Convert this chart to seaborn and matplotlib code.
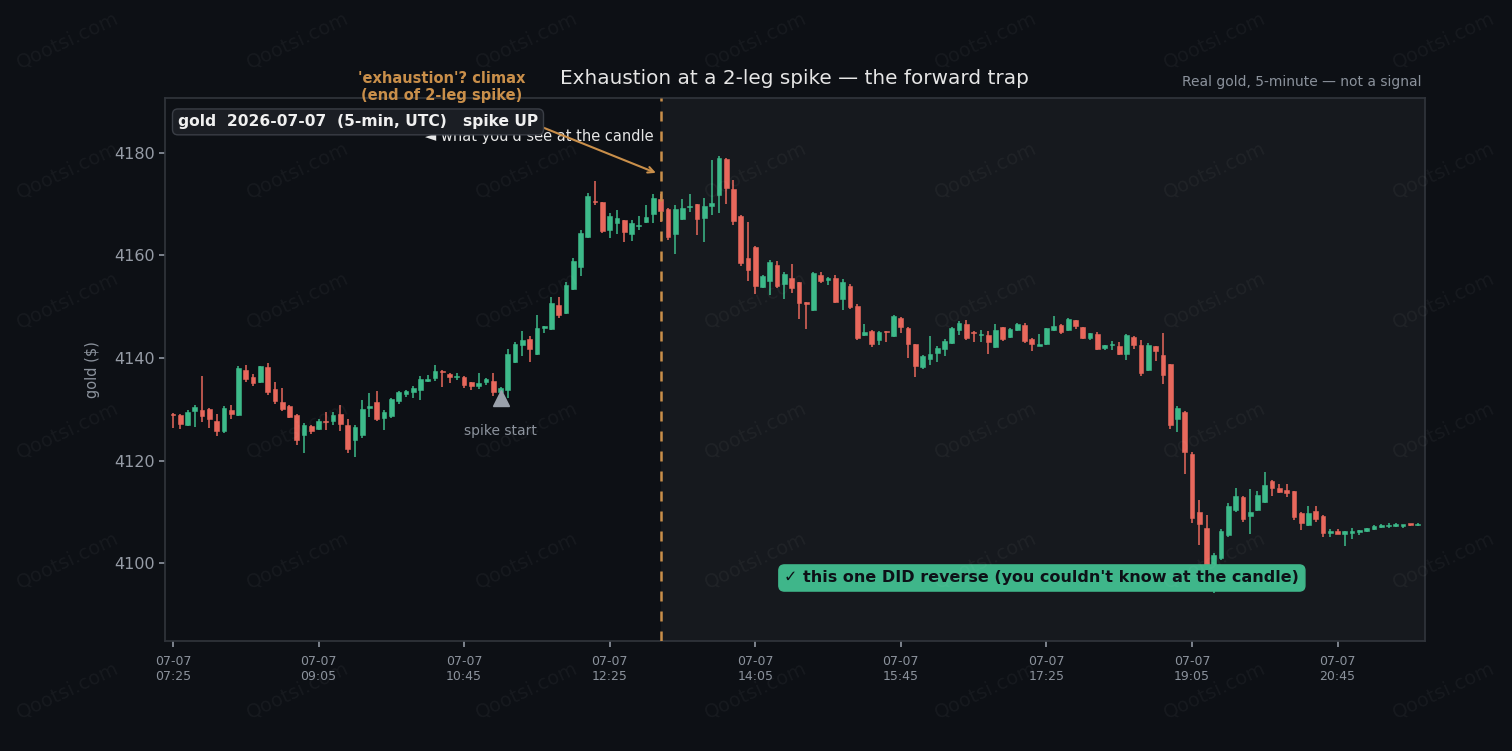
import pandas as pd
import numpy as np
import matplotlib
matplotlib.use("Agg")
import matplotlib.pyplot as plt
import seaborn as sns

# 5-minute gold candles, 2026-07-07 07:25 UTC onwards
opens = [4129.1, 4128.9, 4126.9, 4129.7, 4129.9, 4130.0, 4127.7, 4125.8, 4129.9, 4128.9,
         4137.7, 4136.3, 4135.3, 4138.2, 4134.0, 4131.4, 4130.6, 4128.9, 4125.0, 4126.7,
         4126.2, 4127.8, 4127.7, 4129.1, 4126.9, 4124.0, 4125.0, 4130.3, 4131.4, 4128.3,
         4128.7, 4131.6, 4133.0, 4133.4, 4133.8, 4135.6, 4136.1, 4137.4, 4136.9, 4136.2,
         4136.3, 4135.3, 4134.5, 4135.3, 4135.5, 4133.4, 4133.8, 4139.2, 4142.5, 4143.7,
         4140.8, 4145.9, 4145.7, 4150.3, 4148.8, 4153.5, 4157.8, 4163.6, 4170.6, 4170.4,
         4165.0, 4166.3, 4166.9, 4164.2, 4165.7, 4166.6, 4168.1, 4171.0, 4169.1, 4164.2,
         4167.1, 4169.4, 4170.0, 4167.3, 4169.7, 4171.8, 4178.8, 4173.0, 4167.7, 4159.5,
         4161.7, 4153.9, 4155.0, 4158.1, 4154.4, 4155.6, 4154.8, 4150.9, 4149.4, 4156.2,
         4155.3, 4155.6, 4151.5, 4154.0, 4150.1, 4144.5, 4145.3, 4143.5, 4145.2, 4144.3,
         4147.8, 4145.9, 4142.7, 4138.2, 4139.8, 4141.0, 4141.8, 4142.9, 4145.5, 4146.6,
         4145.1, 4144.4, 4144.5, 4142.1, 4146.0, 4144.1, 4145.5, 4146.4, 4143.7, 4142.4,
         4142.7, 4145.5, 4146.4, 4145.5, 4147.4, 4146.0, 4143.9, 4144.7, 4141.9, 4142.5,
         4142.3, 4140.8, 4144.1, 4142.5, 4137.7, 4142.3, 4140.6, 4138.8, 4128.1, 4129.5,
         4121.3, 4110.0, 4106.8, 4097.8, 4101.0, 4105.5, 4110.3, 4112.9, 4109.2, 4110.3,
         4111.9, 4116.0, 4114.6, 4114.2, 4114.0, 4109.8, 4107.4, 4110.1, 4109.2, 4105.9,
         4106.2, 4105.7, 4105.8, 4106.1, 4106.2, 4106.6, 4107.1, 4107.2, 4107.3, 4107.3,
         4107.6, 4107.4]
highs = [4129.3, 4129.0, 4129.9, 4130.8, 4136.5, 4130.2, 4129.1, 4130.6, 4130.8, 4138.5,
         4138.6, 4136.9, 4138.4, 4139.0, 4135.3, 4134.2, 4130.8, 4129.1, 4127.3, 4126.9,
         4128.0, 4129.5, 4129.5, 4130.8, 4128.1, 4126.9, 4131.8, 4133.2, 4133.6, 4129.9,
         4132.1, 4133.6, 4133.8, 4134.5, 4136.4, 4136.7, 4138.6, 4137.7, 4137.1, 4137.1,
         4136.4, 4135.4, 4137.1, 4136.1, 4137.1, 4134.4, 4141.8, 4143.1, 4145.3, 4144.3,
         4148.4, 4146.2, 4151.9, 4151.9, 4154.8, 4159.5, 4165.0, 4172.2, 4174.5, 4170.5,
         4168.3, 4168.9, 4167.0, 4166.9, 4167.7, 4169.9, 4172.0, 4172.0, 4169.2, 4169.9,
         4171.0, 4172.0, 4170.1, 4171.2, 4178.6, 4179.4, 4179.0, 4174.7, 4167.8, 4166.5,
         4161.8, 4156.2, 4159.1, 4158.9, 4156.8, 4158.3, 4154.9, 4151.0, 4156.8, 4156.8,
         4155.8, 4156.2, 4155.4, 4154.4, 4150.5, 4146.6, 4145.5, 4145.2, 4145.3, 4148.3,
         4148.0, 4146.0, 4142.8, 4140.5, 4144.3, 4142.4, 4143.7, 4146.1, 4147.2, 4147.4,
         4145.2, 4145.5, 4145.2, 4146.6, 4146.1, 4145.8, 4146.8, 4146.8, 4143.8, 4144.7,
         4145.9, 4148.2, 4146.6, 4147.8, 4147.5, 4146.1, 4144.9, 4145.1, 4142.5, 4143.3,
         4143.1, 4144.7, 4144.2, 4143.5, 4142.9, 4142.4, 4144.9, 4138.9, 4130.6, 4129.6,
         4121.7, 4112.3, 4109.4, 4102.0, 4106.6, 4111.7, 4114.6, 4113.0, 4114.4, 4114.0,
         4117.8, 4116.1, 4115.4, 4115.4, 4114.1, 4109.9, 4111.1, 4111.1, 4109.3, 4106.6,
         4106.6, 4106.3, 4106.8, 4106.5, 4106.9, 4107.5, 4107.6, 4107.8, 4107.8, 4107.5,
         4107.7, 4107.8]
lows = [4126.4, 4126.1, 4126.7, 4126.6, 4127.6, 4126.4, 4124.8, 4125.4, 4128.1, 4128.7,
        4135.4, 4134.5, 4135.1, 4132.8, 4131.0, 4129.6, 4128.3, 4123.1, 4121.5, 4125.2,
        4125.9, 4126.0, 4126.9, 4125.8, 4121.5, 4120.7, 4124.4, 4128.4, 4127.7, 4126.0,
        4128.3, 4131.0, 4132.4, 4132.2, 4131.8, 4135.3, 4135.6, 4134.3, 4135.2, 4135.7,
        4134.1, 4133.8, 4134.0, 4134.7, 4132.6, 4132.5, 4132.2, 4139.0, 4140.4, 4139.2,
        4140.6, 4144.9, 4145.5, 4147.8, 4148.6, 4153.3, 4156.0, 4163.4, 4169.9, 4164.4,
        4163.4, 4164.2, 4162.6, 4162.8, 4165.0, 4166.3, 4166.3, 4166.5, 4163.0, 4160.3,
        4166.9, 4168.5, 4164.0, 4162.6, 4167.9, 4168.3, 4170.0, 4166.0, 4157.9, 4155.0,
        4152.5, 4153.7, 4152.3, 4153.7, 4151.5, 4152.7, 4147.6, 4145.7, 4149.2, 4154.6,
        4154.2, 4150.7, 4149.4, 4149.6, 4143.5, 4144.3, 4142.1, 4142.5, 4143.1, 4144.1,
        4144.9, 4140.0, 4136.3, 4137.9, 4138.6, 4139.2, 4140.4, 4142.7, 4144.5, 4143.5,
        4143.1, 4143.1, 4140.8, 4141.9, 4143.3, 4143.9, 4145.3, 4142.9, 4141.4, 4142.3,
        4142.5, 4145.3, 4144.7, 4145.3, 4145.7, 4143.7, 4143.5, 4141.6, 4141.6, 4141.5,
        4140.6, 4139.6, 4141.8, 4136.5, 4137.5, 4139.4, 4134.9, 4126.1, 4125.6, 4117.4,
        4107.8, 4103.5, 4095.5, 4094.1, 4100.6, 4105.1, 4110.0, 4108.0, 4105.7, 4110.1,
        4111.7, 4113.1, 4113.7, 4112.9, 4108.4, 4106.4, 4107.2, 4108.0, 4105.1, 4105.1,
        4105.6, 4103.3, 4104.7, 4105.5, 4106.0, 4106.4, 4106.8, 4106.9, 4107.0, 4106.9,
        4107.3, 4107.2]
closes = [4128.9, 4127.1, 4129.5, 4130.5, 4128.7, 4128.0, 4125.8, 4130.2, 4129.1, 4138.0,
          4135.9, 4135.1, 4138.4, 4133.4, 4131.7, 4130.0, 4128.5, 4124.0, 4126.9, 4125.8,
          4127.7, 4127.5, 4128.9, 4127.1, 4122.2, 4126.5, 4130.0, 4130.4, 4128.1, 4129.5,
          4132.0, 4133.4, 4133.6, 4134.1, 4135.9, 4135.8, 4137.5, 4137.2, 4136.3, 4136.3,
          4134.7, 4134.5, 4135.1, 4135.9, 4133.4, 4134.1, 4140.8, 4142.7, 4143.5, 4141.8,
          4145.9, 4146.0, 4150.7, 4148.4, 4154.2, 4158.9, 4164.4, 4171.6, 4170.4, 4164.8,
          4167.7, 4167.3, 4164.6, 4166.3, 4165.8, 4167.5, 4171.2, 4168.7, 4163.6, 4169.1,
          4169.3, 4169.5, 4167.1, 4169.7, 4170.2, 4179.0, 4173.2, 4166.7, 4158.5, 4157.2,
          4154.0, 4156.0, 4158.7, 4154.0, 4156.4, 4153.7, 4150.7, 4150.5, 4156.6, 4155.0,
          4155.5, 4150.9, 4154.8, 4150.0, 4143.9, 4145.1, 4142.7, 4145.1, 4145.0, 4148.2,
          4146.0, 4142.7, 4138.4, 4140.4, 4140.8, 4142.0, 4143.3, 4145.9, 4146.8, 4143.9,
          4144.9, 4144.6, 4143.1, 4145.5, 4143.7, 4145.7, 4146.6, 4143.3, 4142.7, 4142.6,
          4145.9, 4146.2, 4145.1, 4147.6, 4146.2, 4143.9, 4144.9, 4141.8, 4142.5, 4142.6,
          4140.8, 4144.5, 4142.5, 4137.1, 4142.5, 4141.4, 4136.7, 4126.9, 4130.2, 4121.7,
          4108.8, 4107.6, 4097.5, 4101.6, 4106.2, 4111.1, 4113.1, 4108.6, 4110.0, 4113.3,
          4115.2, 4114.6, 4113.9, 4113.7, 4109.0, 4107.8, 4109.8, 4108.6, 4105.9, 4106.2,
          4105.7, 4106.2, 4106.3, 4106.3, 4106.8, 4107.2, 4107.3, 4107.4, 4107.4, 4107.4,
          4107.5, 4107.6]

times = pd.date_range("2026-07-07 07:25", periods=len(opens), freq="5min")
climax_idx = 67       # 13:00 candle, the "exhaustion" call
spike_start_idx = 45  # 11:10
spike_start_px = 4132.2

BG = "#0d1015"
BG_FWD = "#16191e"
UP = "#3dba8a"
DOWN = "#e8685c"
ORANGE = "#c98f4a"
GREY = "#8b929c"

sns.set_theme(style="dark", rc={
    "figure.facecolor": BG,
    "axes.facecolor": BG,
    "axes.edgecolor": "#30343b",
    "axes.labelcolor": GREY,
    "xtick.color": GREY,
    "ytick.color": GREY,
    "text.color": "#e6e6e6",
    "xtick.bottom": True,
    "ytick.left": True,
})
plt.rcParams["font.family"] = ["DejaVu Sans"]

df = pd.DataFrame({"time": times, "open": opens, "high": highs,
                   "low": lows, "close": closes})
df["x"] = np.arange(len(df))
df["up"] = df["close"] >= df["open"]
df["color"] = np.where(df["up"], UP, DOWN)
body_lo = df[["open", "close"]].min(axis=1)
body_h = (df["close"] - df["open"]).abs().clip(lower=0.25)

fig = plt.figure(figsize=(15.12, 7.51), dpi=100)
ax = fig.add_axes([0.1091, 0.1465, 0.8333, 0.723])

# watermark
for wx in np.arange(68, 1512, 229.3):
    for wy in np.arange(40, 751, 130):
        fig.text(wx / 1512, 1 - wy / 751, "Qootsi.com", fontsize=14, rotation=25,
                 color="white", alpha=0.045, ha="center", va="center", zorder=0)

ax.axvspan(climax_idx, len(df) + 5, color=BG_FWD, zorder=0, lw=0)

ax.vlines(df["x"], df["low"], df["high"], colors=df["color"], lw=1.1, zorder=2)
ax.bar(df["x"], body_h, bottom=body_lo, width=0.65, color=df["color"],
       edgecolor=df["color"], linewidth=0.4, zorder=3)

ax.axvline(climax_idx, color=ORANGE, ls=(0, (4, 4)), lw=1.8, zorder=4)

# spike start marker
ax.plot([spike_start_idx], [spike_start_px], marker="^", ms=12, color="#9aa1ab",
        zorder=5, ls="none")
ax.text(spike_start_idx, 4125.8, "spike start", color=GREY, fontsize=10,
        ha="center", va="center")

ax.set_xlim(-1.1, 172)
ax.set_ylim(4084.8, 4190.7)

tick_pos = df["x"][::20]
ax.set_xticks(tick_pos)
ax.set_xticklabels([t.strftime("%m-%d\n%H:%M") for t in df["time"][::20]], fontsize=9)
ax.set_yticks([4100, 4120, 4140, 4160, 4180])
ax.tick_params(axis="y", labelsize=11.5, length=4, labelcolor="#969ca6")
ax.tick_params(axis="x", length=4, pad=6)
ax.set_ylabel("gold ($)", fontsize=10.5, labelpad=10)
for s in ax.spines.values():
    s.set_color("#30343b")

ax.text(66.0, 4183.1, "\u25c4 what you'd see at the candle", fontsize=10.5,
        color="#e6e6e6", ha="right", va="center", zorder=6)

ax.annotate("'exhaustion'? climax\n(end of 2-leg spike)",
            xy=(climax_idx - 0.3, 4175.9), xytext=(36.9, 4192.9),
            fontsize=10.5, fontweight="bold", color=ORANGE, ha="center", va="center",
            annotation_clip=False, zorder=6,
            arrowprops=dict(arrowstyle="->", color=ORANGE, lw=1.5, shrinkA=14))

ax.text(0.0103, 0.956, "gold  2026-07-07  (5-min, UTC)   spike UP", transform=ax.transAxes,
        fontsize=11.2, fontweight="bold", color="#f0f0f0", va="center", ha="left", zorder=8,
        bbox=dict(boxstyle="round,pad=0.35", fc="#1b1e24", ec="#3a3e46", lw=1))

ax.text(0.696, 0.116, "\u2713 this one DID reverse (you couldn't know at the candle)",
        transform=ax.transAxes, fontsize=11.5, fontweight="bold", color="#0d1117",
        ha="center", va="center", zorder=8,
        bbox=dict(boxstyle="round,pad=0.35", fc="#3fb68a", ec="#3fb68a"))

ax.set_title("Exhaustion at a 2-leg spike \u2014 the forward trap", fontsize=14.4,
             color="#e6e6e6", pad=10)
ax.text(0.997, 1.016, "Real gold, 5-minute \u2014 not a signal", transform=ax.transAxes,
        fontsize=10, color=GREY, ha="right", va="bottom")

fig.savefig("out.png", dpi=100, facecolor=BG)
